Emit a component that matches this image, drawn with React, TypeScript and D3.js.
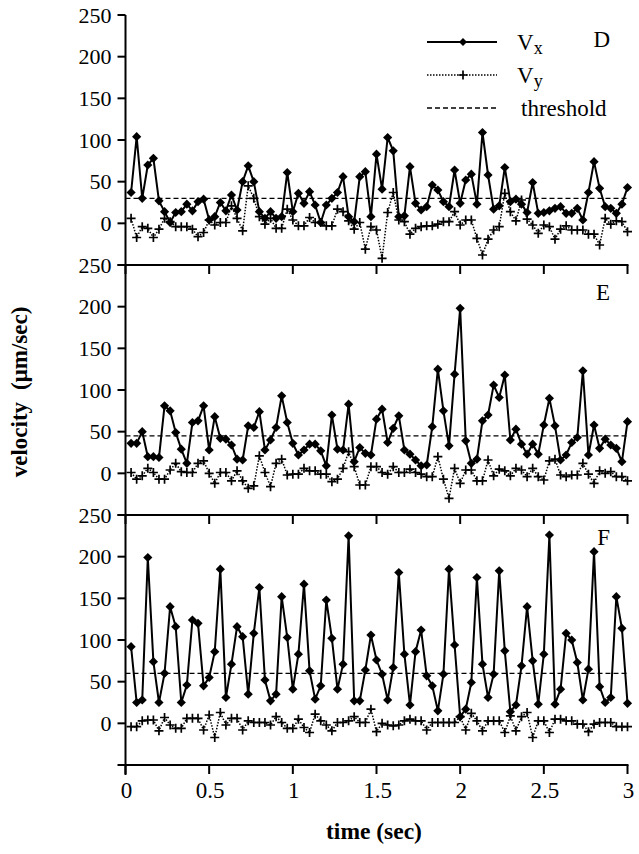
import React from 'react';
import * as d3 from 'd3';

const W = 639;
const H = 854;

// frame index (30 frames per second)
const FPS = 30;
const frames = d3.range(1, 91);

const vxD = [37,104,30,70,78,27,14,1,13,14,23,15,26,29,4,8,25,15,34,16,50,69,50,14,6,14,6,8,61,14,36,24,38,22,1,22,30,37,56,8,2,56,62,8,
  83,41,103,87,8,9,68,24,16,20,46,40,26,20,64,24,52,59,23,109,58,17,21,67,26,29,23,13,49,12,13,15,18,20,12,12,18,4,37,74,42,20,18,12,23,43];
const vyD = [6,-17,-4,-6,-17,-7,6,2,-4,-4,-4,-7,-16,-11,4,-2,1,1,21,6,-9,45,30,8,-1,6,-6,-6,17,4,-3,-3,7,1,1,-3,-3,17,14,3,-7,1,-31,-4,
  -8,-42,13,37,4,2,-13,-6,-4,-3,-3,-1,2,2,14,-2,4,4,-18,-38,-19,-8,-4,36,14,3,28,5,-2,-12,-2,-4,-19,-7,-3,-8,-8,-8,-13,-13,-26,6,-1,3,2,-10];
const vxE = [36,36,50,20,20,19,81,75,49,29,12,61,63,81,28,68,42,41,34,17,16,57,55,74,28,40,55,93,61,36,22,28,35,35,27,9,70,29,28,83,14,31,24,22,
  65,77,37,54,69,28,23,16,9,10,56,125,75,33,119,198,39,12,17,63,70,106,91,118,40,53,35,23,35,23,58,90,57,16,22,37,43,123,22,58,30,41,34,30,14,62];
const vyE = [1,-7,-3,6,1,-7,-7,4,12,2,1,1,12,15,0,-12,1,1,-9,3,-9,-18,-15,21,1,-16,12,17,-2,-1,-1,6,3,3,-1,-1,-10,-7,6,26,8,-14,-14,8,
  8,1,-1,8,1,1,5,1,-1,-4,-4,20,-7,-30,6,-12,4,4,-9,-9,16,-3,5,3,-3,6,4,-4,6,-4,-8,15,17,-2,-4,-2,-2,12,-1,-12,3,0,2,-4,-4,-9];
const vxF = [92,25,28,199,74,25,60,140,116,25,46,124,120,45,55,86,185,31,71,116,104,35,108,163,52,27,35,152,103,41,83,167,63,29,45,148,102,41,71,225,27,27,64,106,
  76,59,28,67,181,83,22,86,112,57,45,15,59,185,94,8,17,49,175,71,31,59,183,87,14,22,69,140,75,23,83,226,23,41,108,100,73,28,65,206,44,25,31,152,114,24];
const vyF = [-4,-4,3,4,4,-9,7,-2,-6,-6,6,6,6,-8,10,-17,13,-2,6,6,-8,3,1,1,1,-2,8,1,-6,-6,5,-5,-11,11,3,-2,-9,1,1,3,8,1,1,17,
  -10,0,-2,-3,-2,3,5,3,3,-8,1,1,1,1,1,8,-8,12,3,-9,3,3,3,-11,9,-9,8,13,-17,3,3,-11,5,5,3,3,-1,-1,-10,-1,1,1,1,-4,-4,-4];

const thresholdD = 30;
const thresholdE = 45;
const thresholdF = 60;

const panelNames = ['D', 'E', 'F'];
const yTicks = [-50, 0, 50, 100, 150, 200, 250];
const yLabelTicks = [0, 50, 100, 150, 200, 250];
const xTicks = [0, 0.5, 1, 1.5, 2, 2.5, 3];
const xTickLabels = ['0', '0.5', '1', '1.5', '2', '2.5', '3'];

const FONT = '"Liberation Serif", "Times New Roman", Times, serif';

const panels = [
  { name: panelNames[0], vx: vxD, vy: vyD, thr: thresholdD, top: 15, bottom: 265, labelY: 47 },
  { name: panelNames[1], vx: vxE, vy: vyE, thr: thresholdE, top: 265, bottom: 515, labelY: 300 },
  { name: panelNames[2], vx: vxF, vy: vyF, thr: thresholdF, top: 515, bottom: 765, labelY: 545 },
];

const x = d3.scaleLinear().domain([0, 3]).range([125.5, 627.5]);
const diamondPath = (r: number) => `M0,${-r}L${r},0L0,${r}L${-r},0Z`;
const plusPath = 'M-4.5,0H4.5M0,-4.5V4.5';

export default function App() {
  return (
    <svg width={W} height={H} style={{ position: 'absolute', left: 0, top: 0, background: '#fff' }}>
      <rect width={W} height={H} fill="#fff" />
      <line x1={x(0)} x2={x(0)} y1={15} y2={775} stroke="#000" strokeWidth={2} />
      {panels.map((p) => {
        const y = d3.scaleLinear().domain([-50, 250]).range([p.bottom, p.top]);
        const pts = frames.map((f, i) => ({ t: f / FPS, vx: p.vx[i], vy: p.vy[i] }));
        const lineX = d3.line<any>().x(d => x(d.t)).y(d => y(d.vx));
        const lineY = d3.line<any>().x(d => x(d.t)).y(d => y(d.vy));
        return (
          <g key={p.name}>
            {yTicks.map(v => (
              <line key={v} x1={x(0) - 8} x2={x(0)} y1={y(v)} y2={y(v)} stroke="#000" strokeWidth={2} />
            ))}
            {yLabelTicks.map(v => (
              <text key={v} x={x(0) - 14} y={y(v)} dy="0.35em" textAnchor="end" fontFamily={FONT} fontSize={22}>
                {v}
              </text>
            ))}
            <line x1={x(0)} x2={x(3) + 1} y1={p.bottom} y2={p.bottom} stroke="#000" strokeWidth={2} />
            {xTicks.map(t => (
              <line key={t} x1={x(t)} x2={x(t)} y1={p.bottom} y2={p.bottom + 9} stroke="#000" strokeWidth={2} />
            ))}
            <line x1={x(0)} x2={x(3)} y1={y(p.thr)} y2={y(p.thr)} stroke="#000" strokeWidth={1.3} strokeDasharray="5,3" />
            <path d={lineY(pts) as string} fill="none" stroke="#000" strokeWidth={1.5} strokeDasharray="1.5,1.5" />
            {pts.map((d, i) => (
              <path key={'p' + i} d={plusPath} transform={`translate(${x(d.t)},${y(d.vy)})`} stroke="#000" strokeWidth={1.7} fill="none" />
            ))}
            <path d={lineX(pts) as string} fill="none" stroke="#000" strokeWidth={2} />
            {pts.map((d, i) => (
              <path key={'d' + i} d={diamondPath(4.6)} transform={`translate(${x(d.t)},${y(d.vx)})`} fill="#000" />
            ))}
            <text x={610} y={p.labelY} textAnchor="end" fontFamily={FONT} fontSize={23}>
              {p.name}
            </text>
          </g>
        );
      })}
      {xTicks.map((t, i) => (
        <text key={t} x={x(t) + 1} y={798} textAnchor="middle" fontFamily={FONT} fontSize={23}>
          {xTickLabels[i]}
        </text>
      ))}
      <text x={374} y={839} textAnchor="middle" fontFamily={FONT} fontSize={23.5} fontWeight="bold">
        time (sec)
      </text>
      <text transform="translate(27,392) rotate(-90)" textAnchor="middle" fontFamily={FONT} fontSize={23} fontWeight="bold">
        velocity<tspan dx={12}>(μm/sec)</tspan>
      </text>
      <g>
        <line x1={427} x2={497} y1={42} y2={42} stroke="#000" strokeWidth={2} />
        <path d={diamondPath(4)} transform="translate(463,42)" fill="#000" />
        <text x={517} y={50} fontFamily={FONT} fontSize={23}>
          V<tspan fontSize={18} dy={4}>x</tspan>
        </text>
        <line x1={427} x2={497} y1={75} y2={75} stroke="#000" strokeWidth={1.5} strokeDasharray="1.5,1.5" />
        <path d={plusPath} transform="translate(463,75)" stroke="#000" strokeWidth={1.7} fill="none" />
        <text x={517} y={83} fontFamily={FONT} fontSize={23}>
          V<tspan fontSize={18} dy={4}>y</tspan>
        </text>
        <line x1={427} x2={497} y1={108} y2={108} stroke="#000" strokeWidth={1.3} strokeDasharray="5,3" />
        <text x={521} y={116} fontFamily={FONT} fontSize={23}>
          threshold
        </text>
      </g>
    </svg>
  );
}
